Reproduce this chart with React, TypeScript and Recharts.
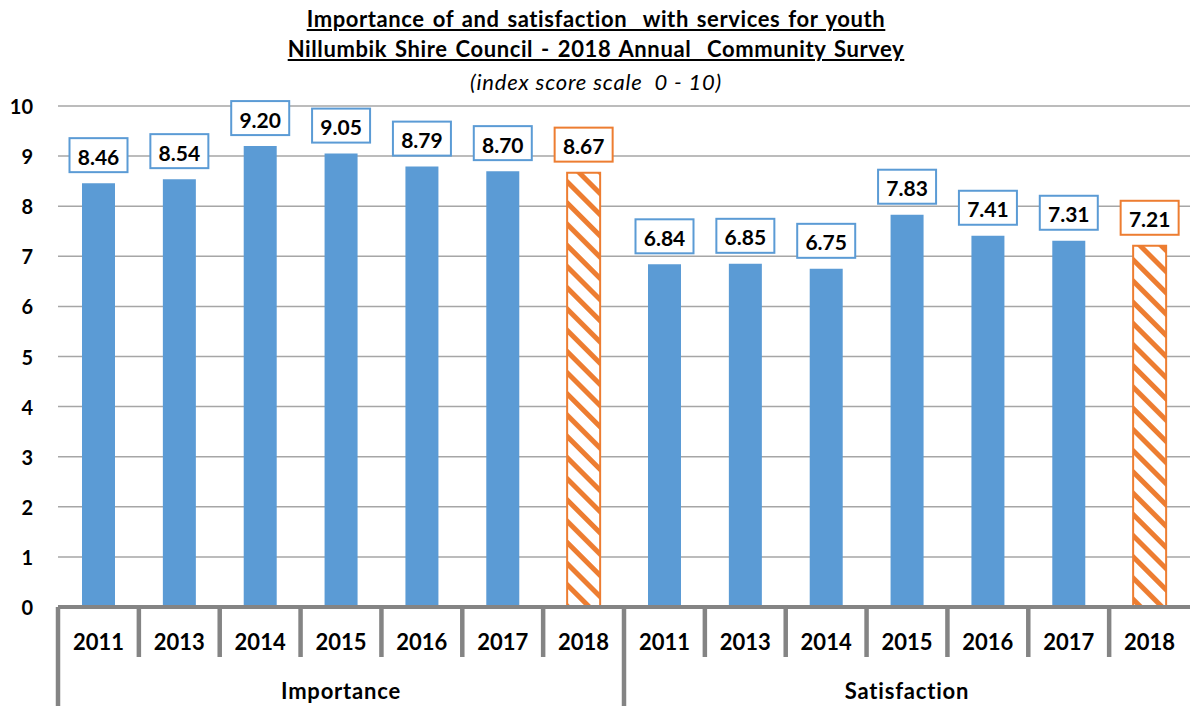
import React from 'react';
import { BarChart, Bar, XAxis, YAxis, CartesianGrid, Cell, LabelList } from 'recharts';

const categories = ['2011', '2013', '2014', '2015', '2016', '2017', '2018'];
const groups = ['Importance', 'Satisfaction'];
const importance = [8.46, 8.54, 9.2, 9.05, 8.79, 8.7, 8.67];
const satisfaction = [6.84, 6.85, 6.75, 7.83, 7.41, 7.31, 7.21];
const yTicks = [0, 1, 2, 3, 4, 5, 6, 7, 8, 9, 10];
const titleLines = [
  'Importance of and satisfaction  with services for youth',
  'Nillumbik Shire Council - 2018 Annual  Community Survey',
];
const subtitle = '(index score scale  0 - 10)';

const seriesByGroup = [importance, satisfaction];
const data = groups.flatMap((g, gi) =>
  categories.map((c, ci) => ({
    key: `${g}-${c}`,
    year: c,
    group: g,
    value: seriesByGroup[gi][ci],
    latest: ci === categories.length - 1,
  }))
);

const W = 1190;
const H = 706;
const M_TOP = 106;
const Y_W = 58;
const X_H = 99;
const PLOT_W = W - Y_W;
const BAND = PLOT_W / data.length;
const AXIS_Y = H - X_H;
const BLUE = '#5b9bd5';
const ORANGE = '#ed7d31';
const GREY = '#848484';
const FONT = 'Lato, "Open Sans", sans-serif';

const YTick = (props: any) => {
  const { y, payload } = props;
  return (
    <text x={33} y={y} textAnchor="end" dominantBaseline="central" fontFamily={FONT} fontWeight={700} fontSize={20} fill="#000">
      {payload.value}
    </text>
  );
};

const XTick = (props: any) => {
  const { x, payload } = props;
  let idx = payload.index;
  if (idx === undefined || data[idx]?.key !== payload.value) idx = data.findIndex((d) => d.key === payload.value);
  const d = data[idx];
  if (!d) return null;
  const ci = idx % categories.length;
  const left = x - BAND / 2;
  const groupStart = ci === 0;
  return (
    <g>
      <line x1={left} x2={left} y1={AXIS_Y} y2={groupStart ? H : 657} stroke={GREY} strokeWidth={4.5} />
      <text x={x} y={641} textAnchor="middle" dominantBaseline="central" fontFamily={FONT} fontWeight={700} fontSize={22} fill="#000">
        {d.year}
      </text>
      {ci === Math.floor(categories.length / 2) && (
        <text x={x} y={690} textAnchor="middle" dominantBaseline="central" fontFamily={FONT} fontWeight={700} fontSize={22} letterSpacing={0.8} fill="#000">
          {d.group}
        </text>
      )}
    </g>
  );
};

const BoxLabel = (props: any) => {
  const { x, y, width, value, index } = props;
  const d = data[index];
  const color = d && d.latest ? ORANGE : BLUE;
  const cx = x + width / 2;
  const bw = 58;
  const bh = 34;
  const bottom = y - 11;
  return (
    <g>
      <rect x={cx - bw / 2} y={bottom - bh} width={bw} height={bh} fill="#fff" stroke={color} strokeWidth={2} />
      <text x={cx} y={bottom - bh / 2 + 1} textAnchor="middle" dominantBaseline="central" fontFamily={FONT} fontWeight={700} fontSize={21} fill="#000">
        {Number(value).toFixed(2)}
      </text>
    </g>
  );
};

const titleBase: React.CSSProperties = {
  position: 'absolute',
  left: 0,
  width: 1192,
  fontSize: 22,
  lineHeight: '28px',
  whiteSpace: 'pre',
  letterSpacing: 0.6,
  wordSpacing: 2,
};

export default function App() {
  return (
    <div style={{ position: 'absolute', left: 0, top: 0, width: W, height: H, background: '#fff' }}>
      <div style={{ position: 'absolute', left: 0, top: 0, width: 1192, textAlign: 'center', fontFamily: FONT, color: '#000' }}>
        <div style={{ ...titleBase, top: 5, fontWeight: 700, textDecoration: 'underline' }}>{titleLines[0]}</div>
        <div style={{ ...titleBase, top: 35, fontWeight: 700, textDecoration: 'underline' }}>{titleLines[1]}</div>
        <div style={{ ...titleBase, top: 68, fontStyle: 'italic', letterSpacing: 0.8, wordSpacing: 0 }}>{subtitle}</div>
      </div>
      <BarChart width={W} height={H} data={data} margin={{ top: M_TOP, right: 0, bottom: 0, left: 0 }} barSize={33}>
        <defs>
          <pattern id="hatch" patternUnits="userSpaceOnUse" width={15} height={15} patternTransform="rotate(-45)">
            <rect x={0} y={0} width={15} height={15} fill="#fff" />
            <rect x={0} y={0} width={5} height={15} fill={ORANGE} />
          </pattern>
        </defs>
        <CartesianGrid vertical={false} stroke="#a6a6a6" strokeWidth={1.5} />
        <YAxis
          width={Y_W}
          domain={[0, 10]}
          ticks={yTicks}
          interval={0}
          axisLine={false}
          tickLine={false}
          tick={<YTick />}
        />
        <XAxis
          dataKey="key"
          height={X_H}
          interval={0}
          tickLine={false}
          tickSize={0}
          axisLine={{ stroke: GREY, strokeWidth: 4 }}
          tick={<XTick />}
        />
        <Bar dataKey="value" isAnimationActive={false}>
          {data.map((d) => (
            <Cell key={d.key} fill={d.latest ? 'url(#hatch)' : BLUE} stroke={d.latest ? ORANGE : 'none'} strokeWidth={d.latest ? 2 : 0} />
          ))}
          <LabelList dataKey="value" content={<BoxLabel />} />
        </Bar>
      </BarChart>
    </div>
  );
}
